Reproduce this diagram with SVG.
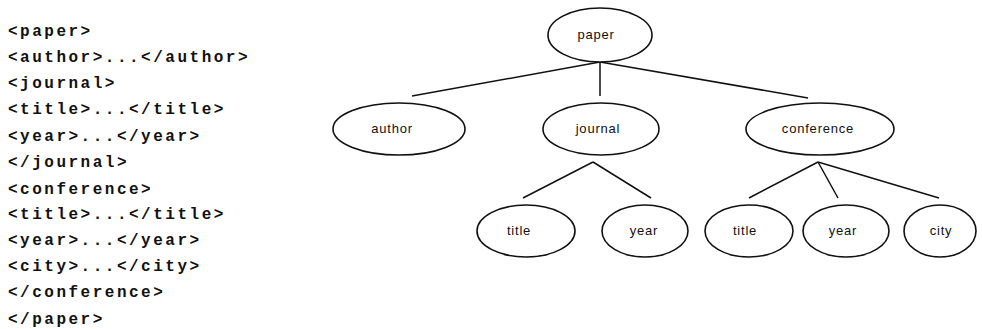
<svg xmlns="http://www.w3.org/2000/svg" width="982" height="329" viewBox="0 0 982 329">
<style>
.code{font-family:"Liberation Mono","Courier New",monospace;font-size:16px;font-weight:bold;letter-spacing:2.5px;fill:#111}
.node ellipse{fill:#fff;stroke:#111;stroke-width:1.6}
.node text{font-family:"Liberation Sans",Arial,sans-serif;font-size:13px;letter-spacing:0.8px;fill:#111;text-anchor:middle}
.edges line{stroke:#111;stroke-width:1.5}
</style>
<rect width="982" height="329" fill="#fff"/>
<g id="code">
<text class="code" x="8" y="36">&lt;paper&gt;</text>
<text class="code" x="8" y="62">&lt;author&gt;...&lt;/author&gt;</text>
<text class="code" x="8" y="88">&lt;journal&gt;</text>
<text class="code" x="8" y="114">&lt;title&gt;...&lt;/title&gt;</text>
<text class="code" x="8" y="141">&lt;year&gt;...&lt;/year&gt;</text>
<text class="code" x="8" y="167">&lt;/journal&gt;</text>
<text class="code" x="8" y="194">&lt;conference&gt;</text>
<text class="code" x="8" y="219">&lt;title&gt;...&lt;/title&gt;</text>
<text class="code" x="8" y="245">&lt;year&gt;...&lt;/year&gt;</text>
<text class="code" x="8" y="271">&lt;city&gt;...&lt;/city&gt;</text>
<text class="code" x="8" y="297">&lt;/conference&gt;</text>
<text class="code" x="8" y="324">&lt;/paper&gt;</text>
</g>
<g class="edges" id="connectors">
<line x1="600" y1="62" x2="412" y2="96"/>
<line x1="600" y1="62" x2="600" y2="96"/>
<line x1="600" y1="62" x2="808" y2="98"/>
<line x1="593" y1="162" x2="523" y2="198"/>
<line x1="593" y1="162" x2="651" y2="198"/>
<line x1="818" y1="162" x2="749" y2="198"/>
<line x1="818" y1="162" x2="838" y2="198"/>
<line x1="818" y1="162" x2="939" y2="198"/>
</g>
<g class="node" id="paper"><ellipse cx="600" cy="35" rx="52" ry="27"/><text x="596" y="39">paper</text></g>
<g class="node" id="author"><ellipse cx="399" cy="129" rx="66" ry="26"/><text x="392" y="133">author</text></g>
<g class="node" id="journal"><ellipse cx="601" cy="129" rx="58" ry="26"/><text x="598" y="133">journal</text></g>
<g class="node" id="conference"><ellipse cx="820" cy="129" rx="74" ry="26"/><text x="818" y="133">conference</text></g>
<g class="node" id="title1"><ellipse cx="526" cy="231" rx="49" ry="26"/><text x="519" y="235">title</text></g>
<g class="node" id="year1"><ellipse cx="645" cy="231" rx="43" ry="26"/><text x="644" y="235">year</text></g>
<g class="node" id="title2"><ellipse cx="749" cy="231" rx="44" ry="26"/><text x="745" y="235">title</text></g>
<g class="node" id="year2"><ellipse cx="846" cy="231" rx="43" ry="26"/><text x="843" y="235">year</text></g>
<g class="node" id="city"><ellipse cx="940" cy="231" rx="36" ry="26"/><text x="941" y="235">city</text></g>
</svg>
